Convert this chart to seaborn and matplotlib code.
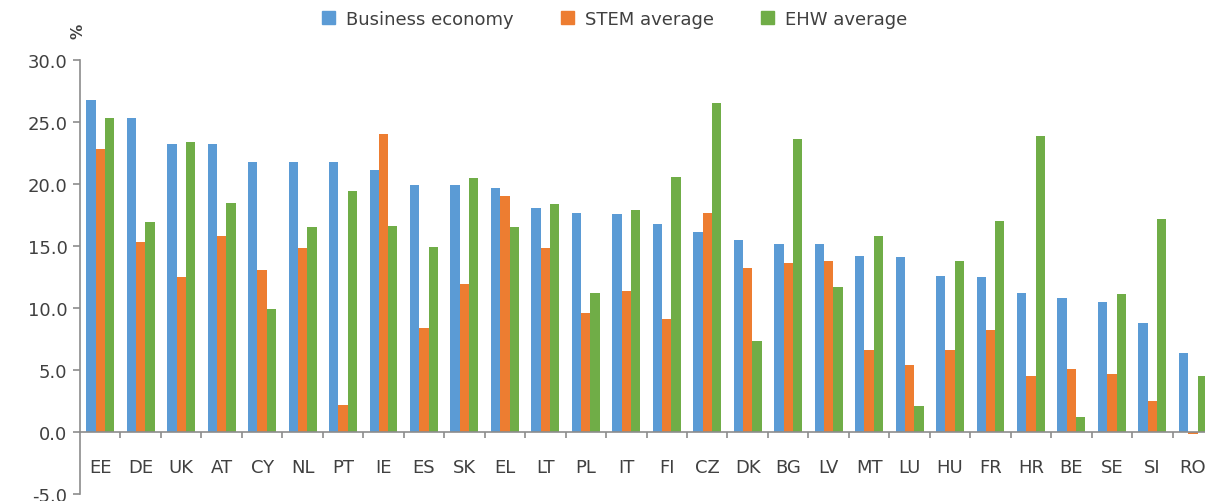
import matplotlib
matplotlib.use("Agg")
import matplotlib.pyplot as plt
import seaborn as sns
import pandas as pd
import numpy as np
from matplotlib.ticker import FixedLocator, FormatStrFormatter

countries = ["EE", "DE", "UK", "AT", "CY", "NL", "PT", "IE", "ES", "SK", "EL", "LT", "PL", "IT",
             "FI", "CZ", "DK", "BG", "LV", "MT", "LU", "HU", "FR", "HR", "BE", "SE", "SI", "RO"]
business = [26.8, 25.3, 23.2, 23.2, 21.8, 21.8, 21.8, 21.1, 19.9, 19.9, 19.7, 18.1, 17.7, 17.6,
            16.8, 16.1, 15.5, 15.2, 15.2, 14.2, 14.1, 12.6, 12.5, 11.2, 10.8, 10.5, 8.8, 6.4]
stem = [22.8, 15.3, 12.5, 15.8, 13.1, 14.8, 2.2, 24.0, 8.4, 11.9, 19.0, 14.8, 9.6, 11.4,
        9.1, 17.7, 13.2, 13.6, 13.8, 6.6, 5.4, 6.6, 8.2, 4.5, 5.1, 4.7, 2.5, -0.2]
ehw = [25.3, 16.9, 23.4, 18.5, 9.9, 16.5, 19.4, 16.6, 14.9, 20.5, 16.5, 18.4, 11.2, 17.9,
       20.6, 26.5, 7.3, 23.6, 11.7, 15.8, 2.1, 13.8, 17.0, 23.9, 1.2, 11.1, 17.2, 4.5]
series_names = ["Business economy", "STEM average", "EHW average"]
colors = ["#5B9BD5", "#ED7D31", "#70AD47"]

df = pd.DataFrame({
    "country": countries * 3,
    "value": business + stem + ehw,
    "series": [series_names[0]] * len(countries) + [series_names[1]] * len(countries)
              + [series_names[2]] * len(countries),
})

sns.set_theme(style="white")
plt.rcParams['font.family'] = ['DejaVu Sans']
txt = "#404040"
axc = "#8C8C8C"

fig = plt.figure(figsize=(12.05, 5.02), dpi=100)
ax = fig.add_axes([80 / 1205, (502 - 495) / 502, 1 - 80 / 1205, (495 - 61) / 502])

sns.barplot(data=df, x="country", y="value", hue="series", order=countries,
            hue_order=series_names, palette=colors, width=0.69, gap=0,
            saturation=1, ax=ax, legend=True)
for p in ax.patches:
    p.set_edgecolor("none")

ax.set_ylim(-5, 30)
ax.set_xlim(-0.5, 27.3)
ax.set_yticks(np.arange(-5, 30.1, 5))
ax.yaxis.set_major_formatter(FormatStrFormatter("%.1f"))
ax.set_xlabel("")
ax.set_ylabel("")

for s in ["top", "right"]:
    ax.spines[s].set_visible(False)
ax.spines["left"].set_color(axc)
ax.spines["bottom"].set_color(axc)
ax.spines["left"].set_linewidth(1.2)
ax.spines["bottom"].set_linewidth(1.2)
ax.spines["bottom"].set_position(("data", 0))

ax.tick_params(axis="y", which="major", direction="out", length=5, width=1.2, color=axc,
               labelsize=13, labelcolor=txt, pad=4, left=True)
ax.tick_params(axis="x", which="major", length=0, labelsize=13, labelcolor=txt, pad=19)
ax.xaxis.set_minor_locator(FixedLocator(np.arange(0.5, len(countries), 1)))
ax.tick_params(axis="x", which="minor", direction="out", length=4, width=1.2, color=axc, bottom=True)

ax.get_legend().remove()
handles = [plt.Rectangle((0, 0), 1, 1, color=c) for c in colors]
fig.legend(handles, series_names, loc="center", bbox_to_anchor=(0.51, 0.96), ncol=3,
           frameon=False, fontsize=13, handlelength=0.75, handleheight=0.75,
           handletextpad=0.6, columnspacing=2.6, labelcolor=txt)

fig.text(78 / 1205, 1 - 31 / 502, "%", rotation=90, fontsize=11, fontweight="bold",
         color=txt, ha="center", va="center")

fig.savefig("out.png", dpi=100)
